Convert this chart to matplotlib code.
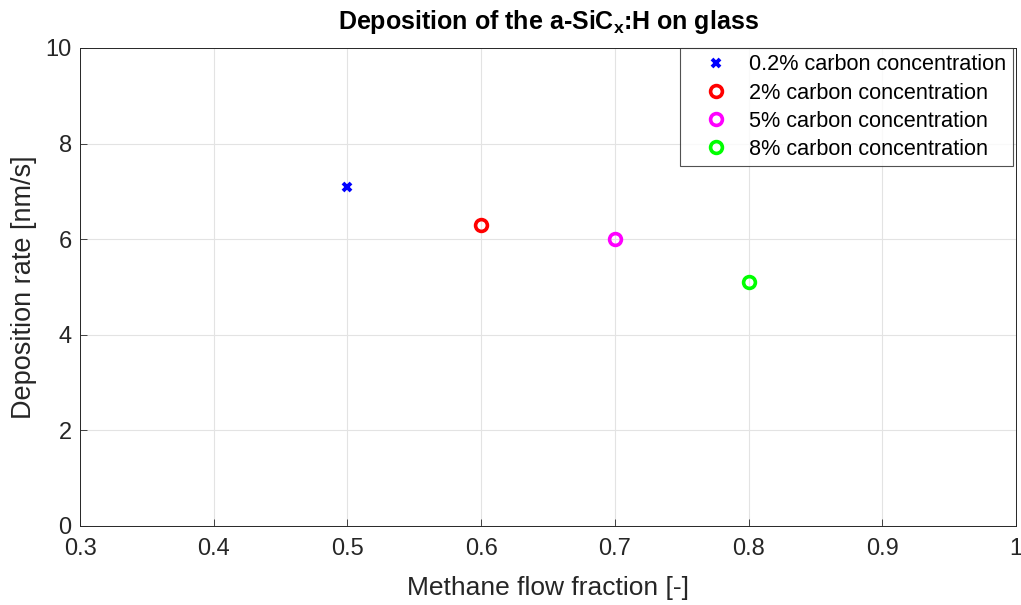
import matplotlib
matplotlib.use("Agg")
import matplotlib.pyplot as plt

plt.rcParams['font.family'] = ['Liberation Sans', 'DejaVu Sans']
plt.rcParams['mathtext.fontset'] = 'custom'
plt.rcParams['mathtext.rm'] = 'Liberation Sans'
plt.rcParams['mathtext.bf'] = 'Liberation Sans:bold'

# data
labels = ['0.2% carbon concentration', '2% carbon concentration',
          '5% carbon concentration', '8% carbon concentration']
methane_fraction = [0.5, 0.6, 0.7, 0.8]
deposition_rate = [7.1, 6.3, 6.0, 5.1]
colors = ['#0000ff', '#ff0000', '#ff00ff', '#00ff00']
markers = ['x', 'o', 'o', 'o']

fig = plt.figure(figsize=(10.21, 6.05), dpi=100)
ax = fig.add_axes([0.0784, 0.1306, 0.9166, 0.7901])

for xv, yv, c, m, lab in zip(methane_fraction, deposition_rate, colors, markers, labels):
    if m == 'x':
        ax.plot(xv, yv, linestyle='none', marker='x', color=c, markersize=5.5,
                markeredgewidth=2.8, label=lab)
    else:
        ax.plot(xv, yv, linestyle='none', marker='o', markerfacecolor='none',
                markeredgecolor=c, markersize=8.5, markeredgewidth=2.6, label=lab)

ax.set_xlim(0.3, 1.0)
ax.set_ylim(0, 10)
ax.set_xticks([0.3, 0.4, 0.5, 0.6, 0.7, 0.8, 0.9, 1.0])
ax.set_xticklabels(['0.3', '0.4', '0.5', '0.6', '0.7', '0.8', '0.9', '1'])
ax.set_yticks([0, 2, 4, 6, 8, 10])
ax.grid(True, color='#e3e3e3', linewidth=0.8)
ax.set_axisbelow(True)
ax.tick_params(labelsize=17, colors='#262626', direction='in', length=5, width=0.6)
ax.tick_params(axis='x', pad=9)
ax.tick_params(axis='y', pad=6)
for sp in ax.spines.values():
    sp.set_color('#262626')
    sp.set_linewidth(0.7)

ax.set_xlabel('Methane flow fraction [-]', fontsize=19, color='#262626', labelpad=11)
ax.set_ylabel('Deposition rate [nm/s]', fontsize=19.5, color='#262626', labelpad=6)
ax.set_title(r'Deposition of the a-SiC$_{\mathbf{x}}$:H on glass', fontsize=18,
             fontweight='bold', pad=14)

leg = ax.legend(loc='upper right', bbox_to_anchor=(0.9968, 1.0), fontsize=15.6,
                frameon=True, fancybox=False, borderaxespad=0.0,
                handletextpad=0.2, labelspacing=0.33, borderpad=0.3,
                handlelength=2.7)
leg.get_frame().set_edgecolor('#262626')
leg.get_frame().set_linewidth(0.8)

fig.savefig('out.png', dpi=100)
